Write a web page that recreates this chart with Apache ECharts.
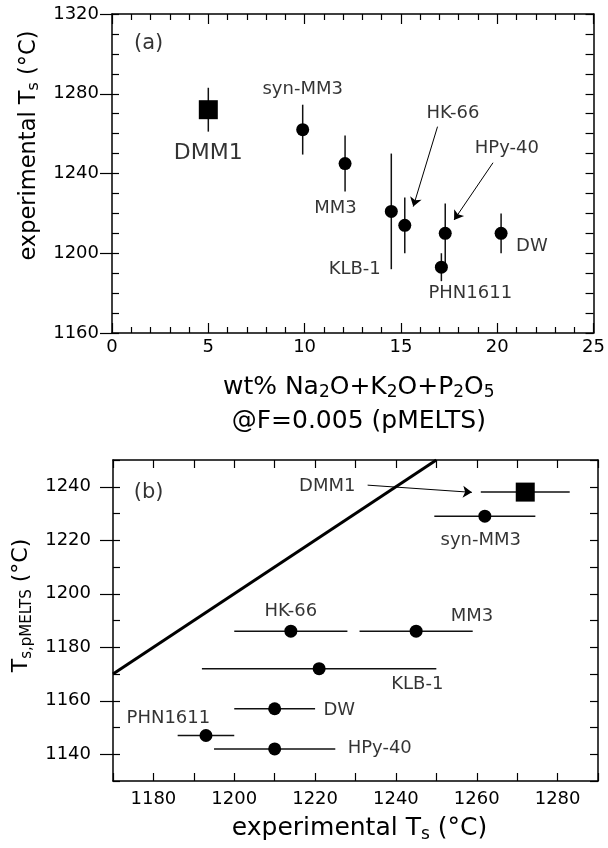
<!DOCTYPE html>
<html>
<head>
<meta charset="utf-8">
<script src="https://cdn.jsdelivr.net/npm/echarts@6/dist/echarts.min.js"></script>
<style>
html, body { margin: 0; padding: 0; background: #fff; }
#chart { width: 608px; height: 848px; }
</style>
</head>
<body>
<div id="chart"></div>
<script>
// samples, same order in every array below
var samples = ['DMM1', 'syn-MM3', 'MM3', 'KLB-1', 'HK-66', 'HPy-40', 'PHN1611', 'DW'];
// wt% Na2O+K2O+P2O5 @F=0.005 (pMELTS)
var alkalis = [5.0, 9.9, 12.1, 14.5, 15.2, 17.3, 17.1, 20.2];
// experimental solidus (C) and its uncertainty
var expT = [1272, 1262, 1245, 1221, 1214, 1210, 1193, 1210];
var expErr = [11, 12.5, 14, 29, 14, 15, 7, 10];
// pMELTS solidus (C)
var pmeltsT = [1238, 1229, 1186, 1172, 1186, 1142, 1147, 1157];
// 1:1 line for panel b
var oneToOne = [[1170, 1170], [1250, 1250]];

// tick labels
var ticksAx = [0, 5, 10, 15, 20, 25];
var ticksAy = [1160, 1200, 1240, 1280, 1320];
var ticksBx = [1180, 1200, 1220, 1240, 1260, 1280];
var ticksBy = [1140, 1160, 1180, 1200, 1220, 1240];

// annotations [x, y, text] in data units
var labelsA = [[1.9, 1305, '(a)'], [5.0, 1250, 'DMM1'], [9.9, 1282, 'syn-MM3'], [11.6, 1222.5, 'MM3'],
    [12.6, 1192, 'KLB-1'], [17.7, 1270, 'HK-66'], [20.5, 1252.5, 'HPy-40'], [18.6, 1180, 'PHN1611'], [21.8, 1203.5, 'DW']];
var labelsB = [[1178.8, 1238, '(b)'], [1223, 1240, 'DMM1'], [1261, 1220, 'syn-MM3'], [1214, 1193.5, 'HK-66'],
    [1258.8, 1191.7, 'MM3'], [1245.3, 1166.3, 'KLB-1'], [1226, 1156.4, 'DW'], [1183.7, 1153.3, 'PHN1611'], [1236, 1142.1, 'HPy-40']];
var arrowsA = [[[16.9, 1263.5], [15.64, 1223.4]], [[19.78, 1245.4], [17.76, 1216.7]]];
var arrowsB = [[[1233, 1240.6], [1258.8, 1237.9]]];

var FONT = 'DejaVu Sans';
var chart = echarts.init(document.getElementById('chart'));

// error bar drawn through the axis scales, vertical ('v') or horizontal ('h')
function errorBar(dir) {
    return function (params, api) {
        var x = api.value(0), y = api.value(1), e = api.value(2);
        var p1 = dir === 'v' ? api.coord([x, y - e]) : api.coord([x - e, y]);
        var p2 = dir === 'v' ? api.coord([x, y + e]) : api.coord([x + e, y]);
        return {
            type: 'line',
            shape: {x1: p1[0], y1: p1[1], x2: p2[0], y2: p2[1]},
            style: {stroke: '#111', lineWidth: 1.5}
        };
    };
}

function points(xs, ys) {
    return samples.map(function (s, i) {
        return {name: s, value: [xs[i], ys[i]], symbol: i === 0 ? 'rect' : 'circle', symbolSize: i === 0 ? 19 : 13};
    });
}

function labelData(list, big) {
    return list.map(function (l) {
        var item = {name: l[2], value: [l[0], l[1]]};
        if (big.indexOf(l[2]) >= 0) item.label = {fontSize: big[big.indexOf(l[2]) + 1]};
        return item;
    });
}

function arrowLines(list) {
    return list.map(function (a) {
        return [{coord: a[0]}, {coord: a[1]}];
    });
}

// only the listed values get a label, written without thousands separators
function tickFmt(list) {
    return function (v) { return list.indexOf(v) >= 0 ? String(v) : ''; };
}

var line = {lineStyle: {color: '#000', width: 1.5}};
function rich(main, sub, drop) {
    return {
        t: {fontSize: main, fontFamily: FONT, color: '#000'},
        s: {fontSize: sub, fontFamily: FONT, color: '#000', padding: [drop, 0, 0, 0]}
    };
}

function frameAxis(grid, pos, min, max, interval, len) {
    return {
        gridIndex: grid, type: 'value', position: pos, min: min, max: max, interval: interval,
        axisLine: line, axisTick: {inside: true, length: len, lineStyle: {color: '#000', width: 1.2}},
        axisLabel: {show: false}, splitLine: {show: false}
    };
}

var xAxes = [
    {
        gridIndex: 0, type: 'value', position: 'bottom', min: 0, max: 25, interval: 5,
        axisLine: line,
        axisTick: {inside: true, length: 10, lineStyle: {color: '#000', width: 1.2}},
        minorTick: {show: true, splitNumber: 5, length: 6, lineStyle: {color: '#000', width: 1.2}},
        axisLabel: {fontSize: 18, fontFamily: FONT, color: '#000', margin: 5, formatter: tickFmt(ticksAx)},
        splitLine: {show: false},
        name: '{t|wt% Na}{s|2}{t|O+K}{s|2}{t|O+P}{s|2}{t|O}{s|5}\n{t|@F=0.005 (pMELTS)}',
        nameLocation: 'middle', nameGap: 37,
        nameTextStyle: {rich: rich(25, 17, 12), lineHeight: 34, padding: [0, 0, 0, 12]}
    },
    Object.assign(frameAxis(0, 'top', 0, 25, 5, 10),
        {minorTick: {show: true, splitNumber: 5, length: 6, lineStyle: {color: '#000', width: 1.2}}}),
    {
        gridIndex: 1, type: 'value', position: 'bottom', min: 1170, max: 1290, interval: 10,
        axisLine: line,
        axisTick: {inside: true, length: 8, lineStyle: {color: '#000', width: 1.2}},
        axisLabel: {fontSize: 18, fontFamily: FONT, color: '#000', margin: 9, formatter: tickFmt(ticksBx)},
        splitLine: {show: false},
        name: '{t|experimental T}{s|s}{t| (°C)}',
        nameLocation: 'middle', nameGap: 33,
        nameTextStyle: {rich: rich(25, 17, 12), padding: [0, 0, 0, 8]}
    },
    frameAxis(1, 'top', 1170, 1290, 10, 8)
];

var yAxes = [
    {
        gridIndex: 0, type: 'value', position: 'left', min: 1160, max: 1320, interval: 40,
        axisLine: line,
        axisTick: {inside: false, length: 12, lineStyle: {color: '#000', width: 1.2}},
        axisLabel: {fontSize: 18, fontFamily: FONT, color: '#000', margin: 13, formatter: tickFmt(ticksAy)},
        splitLine: {show: false},
        name: '{t|experimental T}{s|s}{t| (°C)}',
        nameLocation: 'middle', nameGap: 62,
        nameTextStyle: {rich: rich(22.5, 16, 11), padding: [0, 0, 0, 56]}
    },
    Object.assign(frameAxis(0, 'left', 1160, 1320, 10, 7), {axisLine: {show: false}}),
    frameAxis(0, 'right', 1160, 1320, 10, 8),
    {
        gridIndex: 1, type: 'value', position: 'left', min: 1130, max: 1250, interval: 10,
        axisLine: line,
        axisTick: {inside: false, length: 13, customValues: ticksBy, lineStyle: {color: '#000', width: 1.2}},
        axisLabel: {fontSize: 18, fontFamily: FONT, color: '#000', margin: 22, customValues: ticksBy,
            formatter: tickFmt(ticksBy)},
        splitLine: {show: false},
        name: '{t|T}{s|s,pMELTS}{t| (°C)}',
        nameLocation: 'middle', nameGap: 72,
        nameTextStyle: {rich: rich(22, 15, 11), padding: [0, 0, 0, 30]}
    },
    Object.assign(frameAxis(1, 'left', 1130, 1250, 10, 7), {axisLine: {show: false}}),
    frameAxis(1, 'right', 1130, 1250, 10, 8)
];

var labelStyle = {show: true, position: 'inside', formatter: '{b}', fontSize: 18, fontFamily: FONT, color: '#000'};
var arrowStyle = {silent: true, symbol: ['none', 'arrow'], symbolSize: 9, label: {show: false},
    lineStyle: {color: '#000', width: 1, type: 'solid'}, emphasis: {disabled: true}};

var options = {
    animation: false,
    backgroundColor: '#fff',
    grid: [
        {left: 112, top: 14, width: 486, height: 319},
        {left: 113, top: 460, width: 485, height: 321}
    ],
    xAxis: xAxes,
    yAxis: yAxes,
    series: [
        // panel (a)
        {
            type: 'custom', xAxisIndex: 0, yAxisIndex: 0, renderItem: errorBar('v'),
            data: samples.map(function (s, i) { return [alkalis[i], expT[i], expErr[i]]; }),
            encode: {x: 0, y: 1}, silent: true, z: 2
        },
        {
            type: 'scatter', xAxisIndex: 0, yAxisIndex: 0, data: points(alkalis, expT),
            itemStyle: {color: '#000', opacity: 1}, z: 3
        },
        {
            type: 'scatter', xAxisIndex: 0, yAxisIndex: 0, symbolSize: 0, silent: true,
            data: labelData(labelsA, ['(a)', 21, 'DMM1', 22]), label: labelStyle,
            markLine: Object.assign({data: arrowLines(arrowsA)}, arrowStyle)
        },
        // panel (b)
        {
            type: 'line', xAxisIndex: 2, yAxisIndex: 3, data: oneToOne, showSymbol: false,
            lineStyle: {color: '#000', width: 3}, silent: true, z: 1
        },
        {
            type: 'custom', xAxisIndex: 2, yAxisIndex: 3, renderItem: errorBar('h'),
            data: samples.map(function (s, i) { return [expT[i], pmeltsT[i], expErr[i]]; }),
            encode: {x: 0, y: 1}, silent: true, z: 2
        },
        {
            type: 'scatter', xAxisIndex: 2, yAxisIndex: 3, data: points(expT, pmeltsT),
            itemStyle: {color: '#000', opacity: 1}, z: 3
        },
        {
            type: 'scatter', xAxisIndex: 2, yAxisIndex: 3, symbolSize: 0, silent: true,
            data: labelData(labelsB, ['(b)', 21]), label: labelStyle,
            markLine: Object.assign({data: arrowLines(arrowsB)}, arrowStyle)
        }
    ]
};
chart.setOption(options);
</script>
</body>
</html>
